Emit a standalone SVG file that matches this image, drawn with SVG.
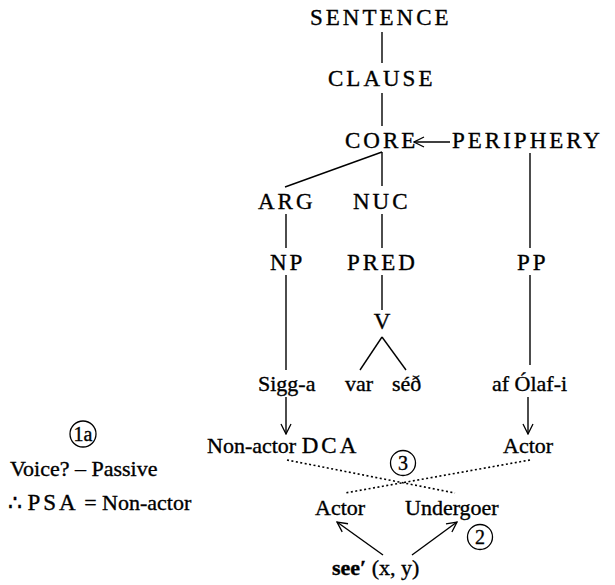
<svg xmlns="http://www.w3.org/2000/svg" width="615" height="585" viewBox="0 0 615 585" font-family="Liberation Serif, DejaVu Serif, serif" font-size="22">
  <style>
    text { fill: #000; stroke: #000; stroke-width: 0.35px; }
    .caps { letter-spacing: 3px; font-size: 23px; }
    .mid { text-anchor: middle; }
    .num { font-size: 20px; text-anchor: middle; }
    .ln { stroke: #000; stroke-width: 1.4; fill: none; }
    .arr { stroke: #000; stroke-width: 1.4; fill: none; marker-end: url(#open); }
    .dot { stroke: #000; stroke-width: 1.6; fill: none; stroke-dasharray: 2 2.5; }
    .ring { stroke: #000; stroke-width: 1.3; fill: none; }
  </style>
  <defs>
    <marker id="open" viewBox="0 0 12 12" refX="11" refY="6" markerWidth="12" markerHeight="12" markerUnits="userSpaceOnUse" orient="auto">
      <path d="M1,1 L11,6 L1,11" stroke="#000" stroke-width="1.3" fill="none"/>
    </marker>
  </defs>

  <!-- tree edges and linking arrows -->
  <g id="connectors">
    <line class="ln" x1="382" y1="32" x2="382" y2="63"/>
    <line class="ln" x1="382" y1="93" x2="382" y2="126"/>
    <line class="arr" x1="450" y1="142" x2="414" y2="142"/>
    <line class="ln" x1="382" y1="152" x2="382" y2="186"/>
    <line class="ln" x1="382" y1="152" x2="285" y2="187"/>
    <line class="ln" x1="530" y1="153" x2="530" y2="248"/>
    <line class="ln" x1="286" y1="214" x2="286" y2="248"/>
    <line class="ln" x1="382" y1="214" x2="382" y2="248"/>
    <line class="ln" x1="286" y1="275" x2="286" y2="370"/>
    <line class="ln" x1="382" y1="275" x2="382" y2="310"/>
    <line class="ln" x1="530" y1="275" x2="530" y2="365"/>
    <line class="ln" x1="382" y1="337" x2="360" y2="370"/>
    <line class="ln" x1="382" y1="337" x2="406" y2="370"/>
    <line class="arr" x1="286" y1="397" x2="286" y2="434"/>
    <line class="arr" x1="528" y1="397" x2="528" y2="434"/>
    <line class="dot" x1="287" y1="460" x2="455" y2="493"/>
    <line class="dot" x1="530" y1="460" x2="345" y2="493"/>
    <line class="arr" x1="383" y1="555" x2="337" y2="522"/>
    <line class="arr" x1="412" y1="555" x2="457" y2="522"/>
  </g>

  <g id="sentence"><text class="caps" x="310" y="25">SENTENCE</text></g>
  <g id="clause"><text class="caps" x="328" y="86">CLAUSE</text></g>
  <g id="core"><text class="caps" x="345" y="148">CORE</text></g>
  <g id="periphery"><text class="caps" x="452" y="148">PERIPHERY</text></g>
  <g id="arg"><text class="caps" x="258" y="209">ARG</text></g>
  <g id="nuc"><text class="caps" x="353" y="209">NUC</text></g>
  <g id="np"><text class="caps" x="270" y="270">NP</text></g>
  <g id="pred"><text class="caps" x="347" y="270">PRED</text></g>
  <g id="pp"><text class="caps" x="517" y="270">PP</text></g>
  <g id="v"><text class="mid" x="382" y="329" font-size="23">V</text></g>
  <g id="sigga"><text x="258" y="391">Sigg-a</text></g>
  <g id="var"><text x="345" y="391">var</text></g>
  <g id="sed"><text x="392" y="391">séð</text></g>
  <g id="afolafi"><text x="492" y="391">af Ólaf-i</text></g>
  <g id="nonactor-dca"><text x="207" y="453">Non-actor <tspan class="caps">DCA</tspan></text></g>
  <g id="actor-pp"><text x="503" y="453">Actor</text></g>
  <g id="step3">
    <circle class="ring" cx="403" cy="463" r="12.5"/>
    <text class="num" x="403" y="470">3</text>
  </g>
  <g id="actor"><text x="315" y="515">Actor</text></g>
  <g id="undergoer"><text x="405" y="515">Undergoer</text></g>
  <g id="step2">
    <circle class="ring" cx="480" cy="537" r="12.5"/>
    <text class="num" x="480" y="544">2</text>
  </g>
  <g id="see"><text x="332" y="575"><tspan font-weight="bold">see′</tspan> (x, y)</text></g>

  <g id="step1a">
    <circle class="ring" cx="83" cy="434" r="13"/>
    <text class="num" x="83" y="441">1a</text>
  </g>
  <g id="voice"><text x="10" y="476">Voice? – Passive</text></g>
  <g id="psa"><text x="8" y="510">∴ <tspan class="caps">PSA</tspan> = Non-actor</text></g>
</svg>
